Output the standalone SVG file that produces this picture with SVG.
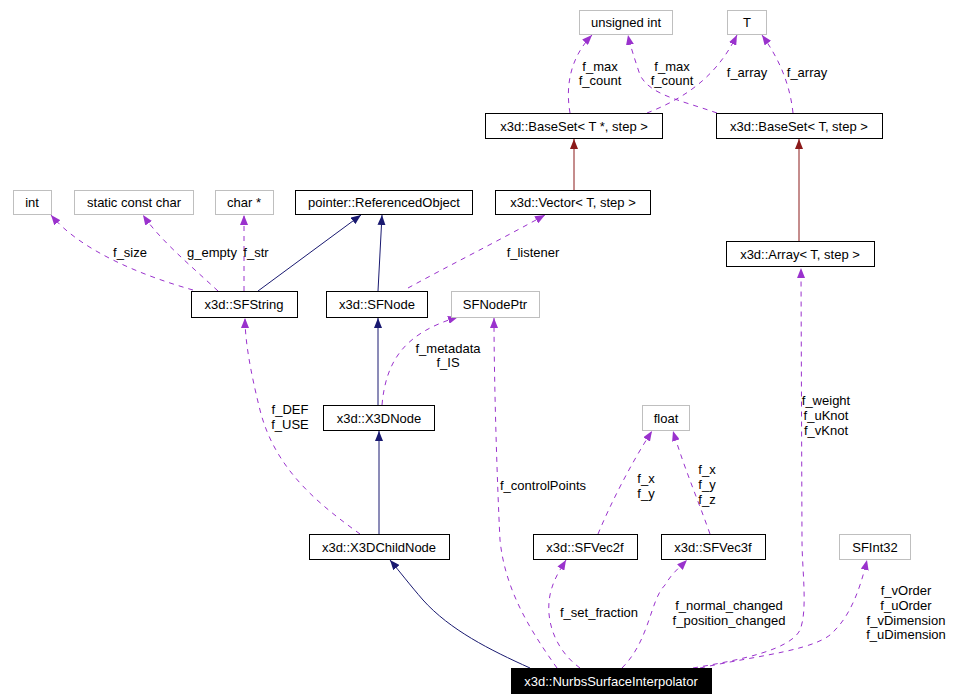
<svg xmlns="http://www.w3.org/2000/svg" width="964" height="700" viewBox="0 0 964 700">
<defs>
<style>
text{font-family:"Liberation Sans",Arial,sans-serif;font-size:13px;fill:#000}
.n rect{fill:#fff;stroke:#000;stroke-width:1}
.g rect{fill:#fff;stroke:#bfbfbf;stroke-width:1}
.m rect{fill:#000;stroke:#000}
.m text{fill:#fff}
.c text{text-anchor:middle}
.nv{fill:none;stroke:#191970;stroke-width:1}
.dr{fill:none;stroke:#8b1a1a;stroke-width:1}
.pu{fill:none;stroke:#9a32cd;stroke-width:1;stroke-dasharray:5,5}
.lb{text-anchor:middle}
</style>
<marker id="anv" markerWidth="10" markerHeight="8" refX="10" refY="4" orient="auto" markerUnits="userSpaceOnUse"><path d="M0,0 L10,4 L0,8 z" fill="#191970"/></marker>
<marker id="adr" markerWidth="10" markerHeight="8" refX="10" refY="4" orient="auto" markerUnits="userSpaceOnUse"><path d="M0,0 L10,4 L0,8 z" fill="#8b1a1a"/></marker>
<marker id="apu" markerWidth="10" markerHeight="8" refX="10" refY="4" orient="auto" markerUnits="userSpaceOnUse"><path d="M0,0 L10,4 L0,8 z" fill="#9a32cd"/></marker>
</defs>
<rect width="964" height="700" fill="#fff"/>
<g id="connectors">
<path class="nv" d="M530,668 C490,650 450,630 423,600 C410,585 400,572 390,560" marker-end="url(#anv)"/>
<path class="nv" d="M379,534 L379,431" marker-end="url(#anv)"/>
<path class="nv" d="M378,405 L378,318" marker-end="url(#anv)"/>
<path class="nv" d="M378,291 L382,215" marker-end="url(#anv)"/>
<path class="nv" d="M258,291 L361,215" marker-end="url(#anv)"/>
<path class="dr" d="M574,190 L574,139" marker-end="url(#adr)"/>
<path class="dr" d="M799,241 L799,139" marker-end="url(#adr)"/>
<path class="pu" d="M193,290 C140,275 80,250 51,215" marker-end="url(#apu)"/>
<path class="pu" d="M218,291 C190,265 160,240 143,215" marker-end="url(#apu)"/>
<path class="pu" d="M244,291 L244,215" marker-end="url(#apu)"/>
<path class="pu" d="M408,288 C450,265 500,240 545,215" marker-end="url(#apu)"/>
<path class="pu" d="M382,405 C386,360 405,333 458,317" marker-end="url(#apu)"/>
<path class="pu" d="M557,668 C530,630 505,590 500,540 C497,480 494,380 494,318" marker-end="url(#apu)"/>
<path class="pu" d="M360,534 C320,505 275,470 260,410 C250,370 245,340 245,318" marker-end="url(#apu)"/>
<path class="pu" d="M598,534 C610,505 630,465 652,431" marker-end="url(#apu)"/>
<path class="pu" d="M710,534 C698,500 685,470 673,431" marker-end="url(#apu)"/>
<path class="pu" d="M580,668 C555,650 545,620 550,595 C553,580 560,570 566,560" marker-end="url(#apu)"/>
<path class="pu" d="M622,668 C650,640 650,600 665,585 C672,573 680,567 687,560" marker-end="url(#apu)"/>
<path class="pu" d="M693,668 C740,660 790,650 800,630 C808,610 802,570 802,540 L801,268" marker-end="url(#apu)"/>
<path class="pu" d="M700,668 C760,655 820,650 835,630 C850,615 860,590 867,560" marker-end="url(#apu)"/>
<path class="pu" d="M570,113 C566,90 568,60 592,35" marker-end="url(#apu)"/>
<path class="pu" d="M717,113 C680,100 650,95 640,75 C635,60 630,45 628,35" marker-end="url(#apu)"/>
<path class="pu" d="M647,113 C680,100 715,80 737,35" marker-end="url(#apu)"/>
<path class="pu" d="M793,113 C790,85 780,60 762,35" marker-end="url(#apu)"/>
<g class="lb">
<text x="600" y="71">f_max</text><text x="600" y="85">f_count</text>
<text x="672" y="71">f_max</text><text x="672" y="85">f_count</text>
<text x="747" y="77">f_array</text>
<text x="807" y="77">f_array</text>
<text x="130" y="257">f_size</text>
<text x="212" y="257">g_empty</text>
<text x="256" y="257">f_str</text>
<text x="533" y="257">f_listener</text>
<text x="448" y="353">f_metadata</text><text x="448" y="367">f_IS</text>
<text x="290" y="414">f_DEF</text><text x="290" y="429">f_USE</text>
<text x="543" y="490">f_controlPoints</text>
<text x="646" y="483">f_x</text><text x="646" y="498">f_y</text>
<text x="707" y="474">f_x</text><text x="707" y="489">f_y</text><text x="707" y="504">f_z</text>
<text x="826" y="405">f_weight</text><text x="826" y="420">f_uKnot</text><text x="826" y="435">f_vKnot</text>
<text x="599" y="617">f_set_fraction</text>
<text x="729" y="610">f_normal_changed</text><text x="729" y="625">f_position_changed</text>
<text x="906" y="595">f_vOrder</text><text x="906" y="610">f_uOrder</text><text x="906" y="625">f_vDimension</text><text x="906" y="639">f_uDimension</text>
</g>
</g>
<g id="unsigned_int" class="g c"><rect x="579.5" y="10.5" width="93" height="24"/><text x="626" y="27">unsigned int</text></g>
<g id="T" class="g c"><rect x="727.5" y="10.5" width="39" height="24"/><text x="747" y="27">T</text></g>
<g id="BaseSetTptr" class="n c"><rect x="485.5" y="113.5" width="177" height="25"/><text x="574" y="131">x3d::BaseSet&lt; T *, step &gt;</text></g>
<g id="BaseSetT" class="n c"><rect x="716.5" y="113.5" width="166" height="25"/><text x="799" y="131">x3d::BaseSet&lt; T, step &gt;</text></g>
<g id="int" class="g c"><rect x="13.5" y="190.5" width="38" height="24"/><text x="32" y="207">int</text></g>
<g id="static_const_char" class="g c"><rect x="74.5" y="190.5" width="119" height="24"/><text x="134" y="207">static const char</text></g>
<g id="char_ptr" class="g c"><rect x="215.5" y="190.5" width="58" height="24"/><text x="244" y="207">char *</text></g>
<g id="ReferencedObject" class="n c"><rect x="295.5" y="190.5" width="177" height="24"/><text x="384" y="207">pointer::ReferencedObject</text></g>
<g id="Vector" class="n c"><rect x="495.5" y="190.5" width="155" height="24"/><text x="573" y="207">x3d::Vector&lt; T, step &gt;</text></g>
<g id="Array" class="n c"><rect x="726.5" y="241.5" width="148" height="25"/><text x="800" y="259">x3d::Array&lt; T, step &gt;</text></g>
<g id="SFString" class="n c"><rect x="191.5" y="291.5" width="106" height="26"/><text x="244" y="309">x3d::SFString</text></g>
<g id="SFNode" class="n c"><rect x="326.5" y="291.5" width="101" height="26"/><text x="377" y="309">x3d::SFNode</text></g>
<g id="SFNodePtr" class="g c"><rect x="451.5" y="291.5" width="88" height="26"/><text x="495" y="309">SFNodePtr</text></g>
<g id="X3DNode" class="n c"><rect x="323.5" y="405.5" width="111" height="25"/><text x="379" y="423">x3d::X3DNode</text></g>
<g id="float" class="g c"><rect x="642.5" y="405.5" width="47" height="25"/><text x="666" y="423">float</text></g>
<g id="X3DChildNode" class="n c"><rect x="309.5" y="534.5" width="140" height="25"/><text x="379" y="552">x3d::X3DChildNode</text></g>
<g id="SFVec2f" class="n c"><rect x="533.5" y="534.5" width="104" height="25"/><text x="585" y="552">x3d::SFVec2f</text></g>
<g id="SFVec3f" class="n c"><rect x="661.5" y="534.5" width="104" height="25"/><text x="713" y="552">x3d::SFVec3f</text></g>
<g id="SFInt32" class="g c"><rect x="839.5" y="534.5" width="71" height="25"/><text x="875" y="552">SFInt32</text></g>
<g id="NurbsSurfaceInterpolator" class="m c"><rect x="511.5" y="668.5" width="200" height="25"/><text x="611" y="686">x3d::NurbsSurfaceInterpolator</text></g>
</svg>
